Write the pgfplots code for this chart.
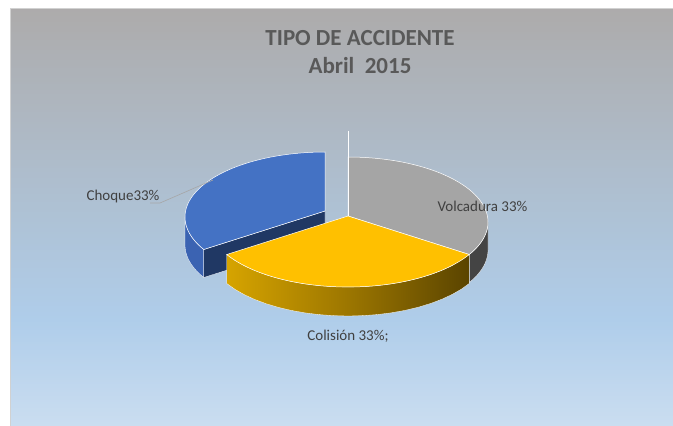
\documentclass[border=0pt]{standalone}
\usepackage{pgfplots}
\pgfplotsset{compat=1.18}
\usepackage{fontspec}
\setmainfont{Carlito}
\definecolor{bgtop}{HTML}{ADABAB}
\definecolor{bgmid}{HTML}{AFCDEA}
\definecolor{bgbot}{HTML}{CADDF0}
\definecolor{gtop}{HTML}{A5A5A5}
\definecolor{gside}{HTML}{444444}
\definecolor{ytop}{HTML}{FFC000}
\definecolor{y1}{HTML}{D6A400}
\definecolor{y2}{HTML}{9C7600}
\definecolor{y3}{HTML}{5A4400}
\definecolor{btop}{HTML}{4472C4}
\definecolor{bside}{HTML}{3B63B2}
\definecolor{bface}{HTML}{203864}
\definecolor{txt}{HTML}{404040}
\definecolor{ttl}{HTML}{595959}
% TikZ maps the 25bp..75bp part of a shading onto the path
\pgfdeclarehorizontalshading{goldside}{100bp}{color(0bp)=(y1); color(25bp)=(y1); color(50bp)=(y2); color(75bp)=(y3); color(100bp)=(y3)}
\pgfplotsset{sidesamples/.style={samples at={0,0.05,...,0.95,1,1.0001,1.05,...,1.95,2}}}
\begin{document}%
\begin{tikzpicture}
% ---- chart-area background (pixel units, y measured from bottom) ----
\begin{scope}[x=1bp,y=1bp]
\fill[white] (0,0) rectangle (673,426);
\foreach \i in {0,...,155}{
  \pgfmathtruncatemacro\p{round(100*(\i+0.5)/156)}
  \fill[bgmid!\p!bgtop] (10,{418-2*\i}) rectangle (690,{418-2*\i-2.6});
}
\foreach \i in {0,...,52}{
  \pgfmathtruncatemacro\p{round(100*(\i+0.5)/53)}
  \fill[bgbot!\p!bgmid] (10,{106-2*\i}) rectangle (690,{106-2*\i-2.6});
}
\fill[white] (0,0) rectangle (10,426);
\draw[color=black!18, line width=0.8bp] (10,0) -- (10,418) -- (690,418);
\end{scope}
\begin{axis}[
  scale only axis, width=673bp, height=426bp,
  xmin=0, xmax=673, ymin=0, ymax=426, y dir=reverse,
  hide axis, clip=false,
]
% ---- Choque 33% (blue, exploded) : angles 90..210 ----
\addplot[sidesamples, fill=bside, draw=white, line width=0.3bp]
  ({325+140*cos(ifthenelse(x<1.00005,180+30*x,210-30*(x-1)))},
   {217-65*sin(ifthenelse(x<1.00005,180+30*x,210-30*(x-1)))+ifthenelse(x<1.00005,0,28)}) -- cycle;
\addplot[fill=bface, draw=white, line width=0.3bp] coordinates {(325,211) (203.8,249.5) (203.8,277.5) (325,239)} -- cycle;
\addplot[fill=btop, draw=white, line width=0.5bp, samples=60, domain=90:210]
  ({325+140*cos(x)},{217-65*sin(x)}) -- (axis cs:325,211) -- cycle;

% ---- Volcadura 33% (gray) : angles -30..90 ----
\addplot[sidesamples, fill=gside, draw=white, line width=0.3bp]
  ({348+140*cos(ifthenelse(x<1.00005,-30+30*x,0-30*(x-1)))},
   {222-65*sin(ifthenelse(x<1.00005,-30+30*x,0-30*(x-1)))+ifthenelse(x<1.00005,0,28)}) -- cycle;
\addplot[fill=gtop, draw=white, line width=0.5bp, samples=60, domain=-30:90]
  ({348+140*cos(x)},{222-65*sin(x)}) -- (axis cs:348,216) -- cycle;

% ---- Colision 33% (yellow) : angles -150..-30 ----
\addplot[sidesamples, shade, shading=goldside, draw=white, line width=0.3bp]
  ({348+140*cos(ifthenelse(x<1.00005,-150+120*x,-30-120*(x-1)))},
   {222-65*sin(ifthenelse(x<1.00005,-150+120*x,-30-120*(x-1)))+ifthenelse(x<1.00005,0,29)}) -- cycle;
\addplot[fill=ytop, draw=white, line width=0.5bp, samples=60, domain=-150:-30]
  ({348+140*cos(x)},{222-65*sin(x)}) -- (axis cs:348,216) -- cycle;

% white gap line
\addplot[white, line width=0.6bp] coordinates {(348,131) (348,216)};
% leader line
\addplot[color=black!35, line width=0.6bp] coordinates {(150,203) (160,203) (213,180)};

% labels
\node[text=txt, font=\fontsize{15bp}{18bp}\selectfont, anchor=west] at (axis cs:83,197) {Choque33\%};
\node[text=txt, font=\fontsize{15bp}{18bp}\selectfont, anchor=west] at (axis cs:434,206) {Volcadura 33\%};
\node[text=txt, font=\fontsize{15bp}{18bp}\selectfont] at (axis cs:348,336) {Colisión 33\%;};

% title
\node[text=ttl, font=\bfseries\fontsize{23bp}{27bp}\selectfont] at (axis cs:360,38) {TIPO DE ACCIDENTE};
\node[text=ttl, font=\bfseries\fontsize{23bp}{27bp}\selectfont] at (axis cs:360,66) {Abril~~2015};
\end{axis}
\pgfresetboundingbox
\useasboundingbox (0,0) rectangle (673bp,426bp);
\end{tikzpicture}%
\end{document}
